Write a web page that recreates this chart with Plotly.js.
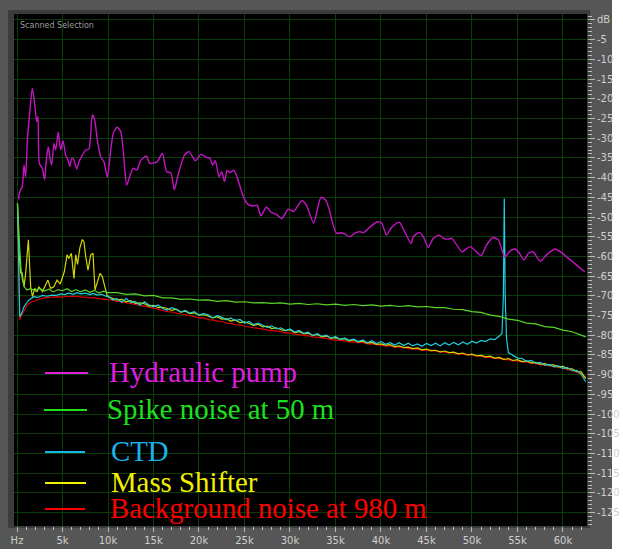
<!DOCTYPE html>
<html>
<head>
<meta charset="utf-8">
<script src="https://cdn.plot.ly/plotly-3.0.1.min.js"></script>
<style>
  html, body { margin: 0; padding: 0; background: #ffffff; }
  #frame { position: absolute; left: 0; top: 0; width: 612px; height: 549px; background: #565656; }
  #inner { position: absolute; left: 8px; top: 10px; width: 582px; height: 518px; background: #3c3c3c; }
  #chart { position: absolute; left: 0; top: 0; width: 623px; height: 552px; }
</style>
</head>
<body>
<div id="frame"></div>
<div id="inner"></div>
<div id="chart"></div>
<script>
// Spectrum levels, frequency in kHz, level in dB: [kHz, dB]
const hydraulicPump = [
  [0.2,-45.5],[0.22,-44.4],[0.4,-43.1],[0.58,-42.3],[0.77,-36.8],[0.95,-39.8],[1.13,-30.9],[1.39,-23.7],
  [1.68,-17.3],[1.94,-21.1],[2.16,-25.8],[2.31,-24.5],[2.45,-36.4],[2.78,-37.6],[3.04,-40.6],[3.22,-35.5],
  [3.44,-32.2],[3.63,-35.1],[3.81,-36.8],[4.07,-31.3],[4.25,-33],[4.54,-28.5],[4.8,-33],[5.05,-30.6],
  [5.35,-34.3],[5.6,-35.5],[5.82,-37.2],[6.01,-35.1],[6.26,-35.5],[6.56,-37.8],[6.81,-36],[7.18,-34.3],
  [7.55,-33],[7.91,-32.7],[8.28,-24.1],[8.54,-25.4],[8.83,-30.5],[9.2,-34.7],[9.56,-36],[9.93,-39.9],
  [10.3,-33],[10.58,-28.8],[11.0,-27.2],[11.4,-28.3],[11.76,-35.5],[12.05,-41.9],[12.5,-38.9],[12.78,-37.6],
  [13.15,-38.1],[13.59,-35.7],[14.2,-34.5],[14.6,-36.4],[15.4,-36],[15.97,-33.8],[16.45,-38.5],[16.9,-38.8],
  [17.29,-43.1],[17.7,-39.3],[18.4,-34.3],[18.9,-33.4],[19.6,-35.7],[20.2,-34.1],[20.85,-34.9],[21.2,-35.1],
  [21.5,-36.8],[21.8,-35.7],[22.2,-39.8],[22.5,-38.5],[22.8,-41],[23.1,-38.2],[23.4,-38.7],[23.8,-38.1],
  [24.1,-39.3],[24.9,-45],[25.4,-46.8],[26.0,-47.2],[26.4,-47],[26.8,-49.7],[27.4,-47.5],[28.0,-48.9],
  [28.5,-49.3],[29.1,-50.4],[29.8,-48],[30.4,-48.6],[31.3,-45.8],[31.8,-47],[32.6,-51.6],[33.0,-48.2],
  [33.4,-45],[33.9,-45.6],[34.3,-48],[34.6,-50.8],[35.1,-54.1],[35.7,-54],[36.0,-54.3],[36.6,-55],
  [37.1,-54.1],[37.7,-53.7],[38.05,-54],[38.8,-52.5],[39.6,-51.2],[40.1,-51.6],[40.6,-54.6],[41.2,-52.5],
  [42.0,-51.3],[42.6,-53.7],[43.3,-56.7],[43.55,-55],[44.2,-53.9],[44.65,-55],[45.2,-57.7],[45.75,-55.4],
  [46.4,-54.6],[46.9,-55.4],[47.4,-55.6],[47.8,-55.4],[48.9,-58.8],[49.8,-57.5],[51.0,-59.8],[51.6,-57.1],
  [52.3,-55.2],[52.9,-55.8],[53.6,-60.1],[54.2,-58.6],[54.7,-58.1],[55.1,-58.8],[55.7,-60.9],[56.2,-59.2],
  [56.7,-58.8],[57.5,-61.2],[58.2,-59.6],[59.1,-58.1],[59.7,-58.8],[60.6,-60.5],[61.5,-62.2],[62.4,-63.9]
];

const spikeNoise50m = [
  [0.05,-46.5],[0.15,-50],[0.3,-58],[0.45,-63.5],[0.6,-66],[0.8,-67.7],[1.1,-68.5],[1.5,-68.2],[2,-68.7],
  [2.5,-68.1],[3,-68.8],[3.5,-68.3],[4,-69],[4.5,-68.4],[5,-68.7],[5.5,-68.2],[6,-68.9],[6.5,-68.4],
  [7,-69],[7.5,-68.5],[8,-69.1],[8.5,-68.6],[9,-69.3],[9.5,-68.8],[10,-69.2],[11,-69.2],[12,-69.6],
  [13,-69.5],[14,-70],[15,-69.9],[16,-70.5],[17,-70.5],[18,-70.9],[19,-70.8],[20,-71.1],[21,-71],
  [22,-71.4],[23,-71.2],[24,-71.6],[25,-71.5],[26,-71.8],[27,-71.7],[28,-71.9],[29,-71.8],[30,-72.1],
  [31,-71.9],[32,-72.2],[33,-72],[34,-72.3],[35,-72.1],[36,-72.4],[37,-72.2],[38,-72.5],[39,-72.3],
  [40,-72.6],[41,-72.4],[42,-72.7],[43,-72.5],[44,-72.8],[45,-72.7],[46,-73],[47,-73],[48,-73.4],
  [49,-73.5],[50,-74],[51,-74.2],[52,-74.9],[53,-75.2],[54,-75.9],[55,-76.2],[56,-76.9],[57,-77.1],
  [58,-77.8],[59,-78],[60,-78.7],[61,-79.1],[62,-80],[62.5,-80.4]
];

const ctd = [
  [0.05,-46.5],[0.2,-60],[0.3,-75.3],[0.5,-74.5],[0.77,-72.8],[1.0,-72],[1.3,-71.1],[1.6,-70.6],
  [1.87,-70.2],[2.3,-70.4],[2.8,-69.9],[3.33,-70.1],[3.8,-69.8],[4.3,-69.9],[4.8,-69.5],[5.2,-69.7],
  [5.7,-69.3],[6.2,-69.6],[6.6,-69.2],[7,-69.5],[7.5,-69.3],[8,-69.7],[8.4,-69.4],[8.8,-69.8],[9.3,-69.6],
  [9.8,-70.1],[10,-70.0],[10.5,-71.0],[11,-70.7],[11.5,-71.6],[12,-70.7],[12.5,-71.7],[13,-71.5],
  [13.5,-72.4],[14,-71.5],[14.5,-72.3],[15,-72.8],[15.5,-72.3],[16,-73.2],[16.5,-73.6],[17,-73.0],
  [17.5,-73.4],[18,-74.1],[18.5,-73.7],[19,-74.4],[19.5,-74.0],[20,-74.9],[20.5,-74.5],[21,-74.8],
  [21.5,-75.6],[22,-75.0],[22.5,-75.4],[23,-76.1],[23.5,-75.6],[24,-76.3],[24.5,-76.0],[25,-76.9],
  [25.5,-76.5],[26,-77.3],[26.5,-76.9],[27,-77.5],[27.5,-78.0],[28,-77.6],[28.5,-78.4],[29,-78.1],
  [29.5,-78.8],[30,-78.4],[30.5,-79.2],[31,-78.8],[31.5,-79.5],[32,-79.2],[32.5,-80.1],[33,-79.6],
  [33.5,-80.3],[34,-80.0],[34.5,-80.8],[35,-80.3],[35.5,-81.1],[36,-80.7],[36.5,-81.3],[37,-81.0],
  [37.5,-81.6],[38,-81.2],[38.5,-81.9],[39,-81.4],[39.5,-82.1],[40,-81.6],[40.5,-82.3],[41,-81.9],
  [41.5,-82.5],[42,-81.9],[42.5,-82.6],[43,-82.0],[43.5,-82.7],[44,-82.2],[44.5,-82.8],[45,-82.1],
  [45.5,-82.6],[46,-82.0],[46.5,-82.7],[47,-81.9],[47.5,-82.5],[48,-81.8],[48.5,-82.4],[49,-81.7],
  [49.5,-82.3],[50,-81.5],[50.5,-82.0],[51,-81.3],[51.5,-81.6],[52,-80.9],[52.5,-81.1],[53,-80.2],
  [53.3,-79.5],[53.45,-70],[53.55,-45.3],[53.65,-70],[53.8,-81],[54,-84.4],[54.5,-85.2],[55,-85.8],
  [55.5,-85.9],[56,-86.6],[56.5,-86.4],[57,-87.1],[57.5,-86.9],[58,-87.6],[58.5,-87.4],[59,-88.0],
  [59.5,-87.8],[60,-88.4],[60.5,-88.2],[61,-89.0],[61.5,-88.9],[62,-89.9],[62.5,-91.8]
];

const massShifter = [
  [0.05,-46.5],[0.2,-58],[0.4,-64.3],[0.55,-64],[0.77,-67.7],[0.95,-64.3],[1.25,-55.8],[1.5,-67.7],
  [1.7,-70.2],[1.94,-68.1],[2.2,-69],[2.4,-67.7],[2.8,-68.9],[3.15,-67.3],[3.4,-66],[3.7,-68.1],
  [4.05,-67.7],[4.4,-66],[4.75,-67],[5.2,-63.9],[5.5,-59.6],[5.7,-60.5],[5.97,-59.2],[6.26,-65.6],
  [6.45,-59.6],[6.65,-62],[6.9,-57.9],[7.18,-55.7],[7.35,-56.2],[7.55,-60],[7.8,-63.5],[8.1,-59.6],
  [8.35,-59.2],[8.57,-68.5],[8.83,-66.4],[9.12,-64.3],[9.37,-65.1],[9.55,-66.6],[9.74,-68.5],[9.93,-70.2],
  [10.5,-70.6],[11,-71.1],[11.5,-70.9],[12,-71.5],[12.5,-71.2],[13,-71.9],[13.5,-71.8],[14,-72.0],
  [14.5,-72.6],[15,-72.4],[15.5,-73.0],[16,-72.9],[16.5,-73.2],[17,-73.7],[17.5,-73.4],[18,-74.1],
  [18.5,-73.9],[19,-74.5],[19.5,-74.3],[20,-74.9],[20.5,-74.8],[21,-75.1],[21.5,-75.6],[22,-75.3],
  [22.5,-75.9],[23,-75.8],[23.5,-76.4],[24,-76.1],[24.5,-76.8],[25,-76.6],[25.5,-77.0],[26,-77.5],
  [26.5,-77.2],[27,-77.9],[27.5,-77.7],[28,-78.3],[28.5,-78.1],[29,-78.6],[29.5,-78.8],[30,-78.6],
  [30.5,-79.3],[31,-79.1],[31.5,-79.6],[32,-79.5],[32.5,-80.0],[33,-79.8],[33.5,-80.4],[34,-80.2],
  [34.5,-80.7],[35,-80.6],[35.5,-81.0],[36,-80.9],[36.5,-81.4],[37,-81.2],[37.5,-81.7],[38,-81.5],
  [38.5,-82.0],[39,-81.8],[39.5,-82.3],[40,-82.2],[40.5,-82.5],[41,-82.4],[41.5,-82.9],[42,-82.7],
  [42.5,-83.1],[43,-83.0],[43.5,-83.4],[44,-83.2],[44.5,-83.7],[45,-83.5],[45.5,-83.9],[46,-83.8],
  [46.5,-84.2],[47,-84.0],[47.5,-84.4],[48,-84.3],[48.5,-84.7],[49,-84.5],[49.5,-85.0],[50,-84.8],
  [50.5,-85.2],[51,-85.1],[51.5,-85.5],[52,-85.3],[52.5,-85.8],[53,-85.6],[53.5,-86.1],[54,-85.9],
  [54.5,-86.4],[55,-86.2],[55.5,-86.7],[56,-86.5],[56.5,-87.0],[57,-86.9],[57.5,-87.3],[58,-87.2],
  [58.5,-87.6],[59,-87.5],[59.5,-88.0],[60,-87.9],[60.5,-88.5],[61,-88.5],[61.5,-89.2],[62,-89.3],[62.5,-91.0]
];

const background980m = [
  [0.05,-48],[0.3,-76],[0.5,-75],[0.8,-73.8],[1.1,-72.4],[1.5,-71.6],[2,-71.1],[2.5,-70.8],[3,-70.5],
  [3.5,-70.4],[4,-70.3],[4.5,-70.2],[5,-70.3],[5.5,-70.1],[6,-70.2],[6.5,-70.1],[7,-70.3],[7.5,-70.3],
  [8,-70.5],[8.5,-70.5],[9,-70.7],[9.5,-70.8],[10,-71],[10.5,-71.1],[11,-71.4],[11.5,-71.5],[12,-71.8],
  [12.5,-71.9],[13,-72.2],[13.5,-72.4],[14,-72.6],[14.5,-72.9],[15,-73.1],[15.5,-73.4],[16,-73.7],
  [16.5,-74],[17,-74.1],[17.5,-74.4],[18,-74.6],[18.5,-74.8],[19,-75.1],[19.5,-75.3],[20,-75.6],
  [20.5,-75.6],[21,-76.0],[21.5,-76.1],[22,-76.4],[22.5,-76.5],[23,-76.9],[23.5,-77.0],[24,-77.3],
  [24.5,-77.4],[25,-77.7],[25.5,-77.9],[26,-78.1],[26.5,-78.2],[27,-78.4],[27.5,-78.7],[28,-78.8],
  [28.5,-78.9],[29,-79.1],[29.5,-79.4],[30,-79.4],[30.5,-79.7],[31,-79.8],[31.5,-79.9],[32,-80.1],
  [32.5,-80.4],[33,-80.5],[33.5,-80.6],[34,-80.8],[34.5,-81.1],[35,-81.2],[35.5,-81.2],[36,-81.4],
  [36.5,-81.7],[37,-81.7],[37.5,-81.8],[38,-81.9],[38.5,-82.2],[39,-82.2],[39.5,-82.4],[40,-82.5],
  [40.5,-82.7],[41,-82.7],[41.5,-83.0],[42,-83.0],[42.5,-83.2],[43,-83.3],[43.5,-83.5],[44,-83.5],
  [44.5,-83.8],[45,-83.8],[45.5,-84.0],[46,-84.0],[46.5,-84.3],[47,-84.3],[47.5,-84.5],[48,-84.5],
  [48.5,-84.8],[49,-84.8],[49.5,-85.0],[50,-85.0],[50.5,-85.3],[51,-85.3],[51.5,-85.6],[52,-85.6],
  [52.5,-85.9],[53,-85.9],[53.5,-86.2],[54,-86.2],[54.5,-86.5],[55,-86.5],[55.5,-86.8],[56,-86.8],
  [56.5,-87.1],[57,-87.2],[57.5,-87.5],[58,-87.5],[58.5,-87.8],[59,-87.9],[59.5,-88.2],[60,-88.3],
  [60.5,-88.7],[61,-88.9],[61.5,-89.4],[62,-89.8],[62.5,-90.8]
];

const seriesNames = ['Hydraulic pump', 'Spike noise at 50 m', 'CTD', 'Mass Shifter', 'Background noise at 980 m'];
const xTickVals = [0, 5, 10, 15, 20, 25, 30, 35, 40, 45, 50, 55, 60];
const xTickText = ['Hz', '5k', '10k', '15k', '20k', '25k', '30k', '35k', '40k', '45k', '50k', '55k', '60k'];
const yTickVals = [0, -5, -10, -15, -20, -25, -30, -35, -40, -45, -50, -55, -60, -65, -70, -75, -80, -85, -90, -95, -100, -105, -110, -115, -120, -125];
const yTickText = ['dB', '-5', '-10', '-15', '-20', '-25', '-30', '-35', '-40', '-45', '-50', '-55', '-60', '-65', '-70', '-75', '-80', '-85', '-90', '-95', '-100', '-105', '-110', '-115', '-120', '-125'];

// plot geometry (px)
const W = 623, H = 552;
const M = { l: 14, r: 36, t: 14, b: 26 };
const X_RANGE = [-0.33, 62.64];
const Y_RANGE = [-128.4, 1.52];

// pixel -> data helpers for the hand-placed key
const plotW = W - M.l - M.r, plotH = H - M.t - M.b;
const px2x = px => X_RANGE[0] + (px - M.l) / plotW * (X_RANGE[1] - X_RANGE[0]);
const py2y = py => Y_RANGE[1] - (py - M.t) / plotH * (Y_RANGE[1] - Y_RANGE[0]);

const lineColors = ['#c414c4', '#5ad62a', '#1cd0e0', '#d6d600', '#e00000'];
const textColors = ['#e01ee0', '#1ee01e', '#18b4ea', '#f0f000', '#ff0000'];

function lineTrace(data, k) {
  return {
    type: 'scatter', mode: 'lines',
    name: seriesNames[k],
    x: data.map(p => p[0]), y: data.map(p => p[1]),
    line: { color: lineColors[k], width: k === 0 ? 1.4 : 1.2, shape: k === 0 ? 'spline' : 'linear', smoothing: 0.6 },
    hoverinfo: 'skip'
  };
}

// drawing order: red floor first, then the others on top
const traces = [
  lineTrace(background980m, 4),
  lineTrace(massShifter, 3),
  lineTrace(ctd, 2),
  lineTrace(spikeNoise50m, 1),
  lineTrace(hydraulicPump, 0)
];

// key: short line + label, positioned in px
const keyRows = [
  { y: 373, x0: 45, x1: 88, tx: 107 },
  { y: 410, x0: 44, x1: 87, tx: 105 },
  { y: 452, x0: 45, x1: 85, tx: 109 },
  { y: 483, x0: 45, x1: 86, tx: 109 },
  { y: 509, x0: 45, x1: 85, tx: 108 }
];
const shapes = keyRows.map((r, i) => ({
  type: 'line', xref: 'x', yref: 'y',
  x0: px2x(r.x0), x1: px2x(r.x1), y0: py2y(r.y), y1: py2y(r.y),
  line: { color: textColors[i], width: 2 }
}));
const annotations = keyRows.map((r, i) => ({
  xref: 'x', yref: 'y', x: px2x(r.tx), y: py2y(r.y - 1),
  xanchor: 'left', yanchor: 'middle', showarrow: false,
  text: seriesNames[i],
  font: { family: 'Liberation Serif, Times New Roman, serif', size: 28.8, color: textColors[i] }
}));
annotations.push({
  xref: 'x', yref: 'y', x: px2x(18), y: py2y(25),
  xanchor: 'left', yanchor: 'middle', showarrow: false,
  text: 'Scanned Selection',
  font: { family: 'DejaVu Sans, sans-serif', size: 8, color: '#9c9c9c' }
});

const gridColor = '#0b3a0b';
const tickColor = '#bdbdbd';
const tickFont = { family: 'DejaVu Sans, sans-serif', size: 10, color: '#cfcfcf' };

const layout = {
  width: W, height: H,
  margin: M,
  paper_bgcolor: 'rgba(0,0,0,0)',
  plot_bgcolor: '#000000',
  showlegend: false,
  xaxis: {
    range: X_RANGE, fixedrange: true,
    tickmode: 'array', tickvals: xTickVals, ticktext: xTickText,
    ticks: 'outside', ticklen: 5, tickwidth: 1, tickcolor: tickColor,
    tickfont: tickFont,
    minor: { tickmode: 'linear', tick0: 0, dtick: 1, ticks: 'outside', ticklen: 3, tickcolor: tickColor, showgrid: false },
    showgrid: true, gridcolor: gridColor, gridwidth: 1,
    zeroline: false, showline: false
  },
  yaxis: {
    range: Y_RANGE, fixedrange: true, side: 'right',
    tickmode: 'array', tickvals: yTickVals, ticktext: yTickText,
    ticks: 'outside', ticklen: 7, tickwidth: 1, tickcolor: tickColor,
    tickfont: tickFont,
    minor: { tickmode: 'linear', tick0: 0, dtick: 1, ticks: 'outside', ticklen: 4, tickcolor: tickColor, showgrid: false },
    showgrid: true, gridcolor: gridColor, gridwidth: 1,
    zeroline: false, showline: false
  },
  shapes: shapes,
  annotations: annotations
};

Plotly.newPlot('chart', traces, layout, { displayModeBar: false, staticPlot: true });
</script>
</body>
</html>
